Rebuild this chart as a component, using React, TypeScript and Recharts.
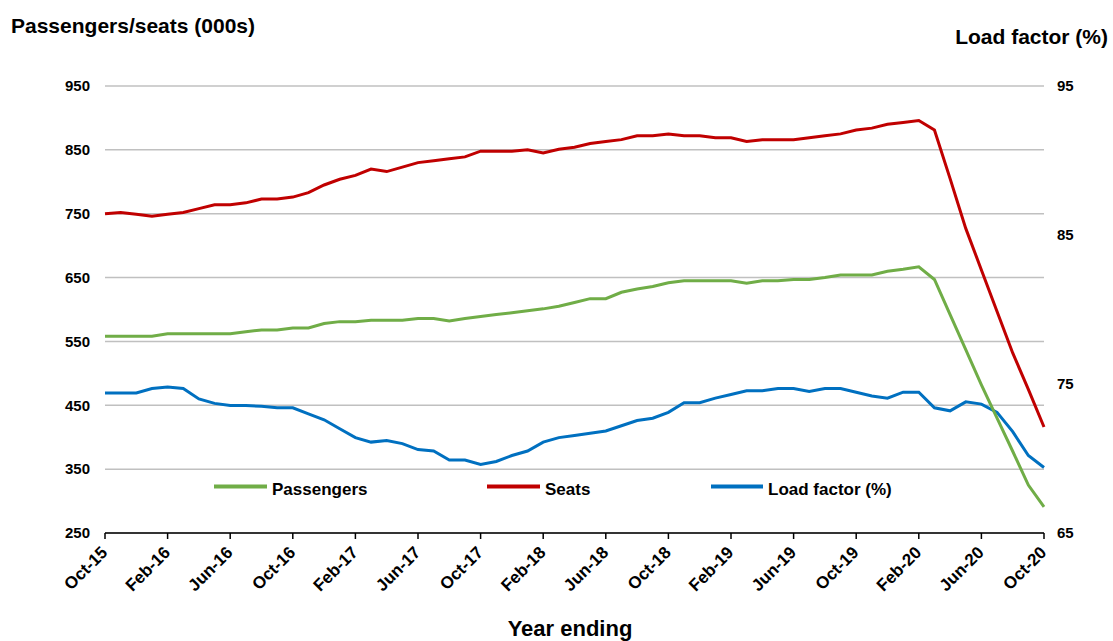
import React from "react";
import { LineChart, Line, XAxis, YAxis, CartesianGrid, Text } from "recharts";

const months = [
  "Oct-15","Nov-15","Dec-15","Jan-16","Feb-16","Mar-16","Apr-16","May-16","Jun-16","Jul-16","Aug-16","Sep-16",
  "Oct-16","Nov-16","Dec-16","Jan-17","Feb-17","Mar-17","Apr-17","May-17","Jun-17","Jul-17","Aug-17","Sep-17",
  "Oct-17","Nov-17","Dec-17","Jan-18","Feb-18","Mar-18","Apr-18","May-18","Jun-18","Jul-18","Aug-18","Sep-18",
  "Oct-18","Nov-18","Dec-18","Jan-19","Feb-19","Mar-19","Apr-19","May-19","Jun-19","Jul-19","Aug-19","Sep-19",
  "Oct-19","Nov-19","Dec-19","Jan-20","Feb-20","Mar-20","Apr-20","May-20","Jun-20","Jul-20","Aug-20","Sep-20",
  "Oct-20",
];

const passengers = [
  558, 558, 558, 558, 562, 562, 562, 562, 562, 565,
  568, 568, 571, 571, 578, 581, 581, 583, 583, 583,
  586, 586, 582, 586, 589, 592, 595, 598, 601, 605,
  611, 617, 617, 627, 632, 636, 642, 645, 645, 645,
  645, 641, 645, 645, 647, 647, 650, 654, 654, 654,
  660, 663, 667, 647, 592, 537, 482, 430, 378, 325,
  291,
];

const seats = [
  750, 752, 749, 746, 749, 752, 758, 764, 764, 767,
  773, 773, 776, 783, 795, 804, 810, 820, 816, 823,
  830, 833, 836, 839, 848, 848, 848, 850, 845, 851,
  854, 860, 863, 866, 872, 872, 875, 872, 872, 869,
  869, 863, 866, 866, 866, 869, 872, 875, 881, 884,
  890, 893, 896, 881, 805, 727, 662, 597, 532, 475,
  416,
];

const loadFactor = [
  74.4, 74.4, 74.4, 74.7, 74.8, 74.7, 74.0, 73.7, 73.55, 73.55,
  73.5, 73.4, 73.4, 73.0, 72.6, 72.0, 71.4, 71.1, 71.2, 71.0,
  70.6, 70.5, 69.9, 69.9, 69.6, 69.8, 70.2, 70.5, 71.1, 71.4,
  71.55, 71.7, 71.85, 72.2, 72.55, 72.7, 73.1, 73.75, 73.75, 74.05,
  74.3, 74.55, 74.55, 74.7, 74.7, 74.5, 74.7, 74.7, 74.45, 74.2,
  74.05, 74.45, 74.45, 73.4, 73.2, 73.8, 73.65, 73.1, 71.8, 70.2,
  69.4,
];

const leftTicks = [250, 350, 450, 550, 650, 750, 850, 950];
const rightTicks = [65, 75, 85, 95];

const seriesNames = ["Passengers", "Seats", "Load factor (%)"];
const colors = { passengers: "#70AD47", seats: "#C00000", load: "#0070C0" };

const data = months.map((m, i) => ({
  month: m,
  passengers: passengers[i],
  seats: seats[i],
  load: loadFactor[i],
}));

const FONT = "'Liberation Sans', Arial, sans-serif";

const XTick = (props: any) => {
  const { x, y, payload } = props;
  return (
    <Text
      x={x - 5}
      y={y + 6}
      angle={-45}
      textAnchor="end"
      verticalAnchor="start"
      fontFamily={FONT}
      fontWeight="bold"
      fontSize={17}
      fill="#000"
    >
      {payload.value}
    </Text>
  );
};

const legendItems = [
  { name: seriesNames[0], color: colors.passengers, x1: 214, x2: 267, tx: 272 },
  { name: seriesNames[1], color: colors.seats, x1: 487, x2: 540, tx: 545 },
  { name: seriesNames[2], color: colors.load, x1: 711, x2: 763, tx: 768 },
];

export default function App() {
  return (
    <div style={{ position: "absolute", left: 0, top: 0, width: 1113, height: 641, background: "#fff" }}>
      <LineChart
        width={1113}
        height={641}
        data={data}
        margin={{ top: 86, right: 0, bottom: 0, left: 0 }}
      >
        <CartesianGrid vertical={false} stroke="#C0C0C0" strokeWidth={1.5} yAxisId="left" />
        <XAxis
          dataKey="month"
          interval={3}
          height={108}
          tick={(p: any) => <XTick {...p} />}
          tickSize={6}
          tickMargin={0}
          axisLine={{ stroke: "#000", strokeWidth: 1.5 }}
          tickLine={{ stroke: "#000", strokeWidth: 1.5 }}
        />
        <YAxis
          yAxisId="left"
          orientation="left"
          width={105}
          domain={[250, 950]}
          ticks={leftTicks}
          axisLine={false}
          tickLine={false}
          tickSize={0}
          tickMargin={15}
          tick={{ fontFamily: FONT, fontWeight: "bold", fontSize: 15, fill: "#000" }}
        />
        <YAxis
          yAxisId="right"
          orientation="right"
          width={69}
          domain={[65, 95]}
          ticks={rightTicks}
          axisLine={false}
          tickLine={false}
          tickSize={0}
          tickMargin={13}
          tick={{ fontFamily: FONT, fontWeight: "bold", fontSize: 15, fill: "#000", textAnchor: "start" }}
        />
        <Line
          yAxisId="right"
          dataKey="load"
          name={seriesNames[2]}
          stroke={colors.load}
          strokeWidth={3}
          dot={false}
          type="linear"
          isAnimationActive={false}
        />
        <Line
          yAxisId="left"
          dataKey="passengers"
          name={seriesNames[0]}
          stroke={colors.passengers}
          strokeWidth={3}
          dot={false}
          type="linear"
          isAnimationActive={false}
        />
        <Line
          yAxisId="left"
          dataKey="seats"
          name={seriesNames[1]}
          stroke={colors.seats}
          strokeWidth={3}
          dot={false}
          type="linear"
          isAnimationActive={false}
        />
      </LineChart>
      <svg
        width={1113}
        height={641}
        style={{ position: "absolute", left: 0, top: 0, pointerEvents: "none" }}
      >
        <text x={11} y={33} fontFamily={FONT} fontWeight="bold" fontSize={21} fill="#000">
          Passengers/seats (000s)
        </text>
        <text x={1108} y={44} textAnchor="end" fontFamily={FONT} fontWeight="bold" fontSize={21} fill="#000">
          Load factor (%)
        </text>
        <text x={570} y={636} textAnchor="middle" fontFamily={FONT} fontWeight="bold" fontSize={22} fill="#000">
          Year ending
        </text>
        {legendItems.map((it) => (
          <g key={it.name}>
            <line x1={it.x1} x2={it.x2} y1={486.5} y2={486.5} stroke={it.color} strokeWidth={4} />
            <text x={it.tx} y={495} fontFamily={FONT} fontWeight="bold" fontSize={17} fill="#000">
              {it.name}
            </text>
          </g>
        ))}
      </svg>
    </div>
  );
}
